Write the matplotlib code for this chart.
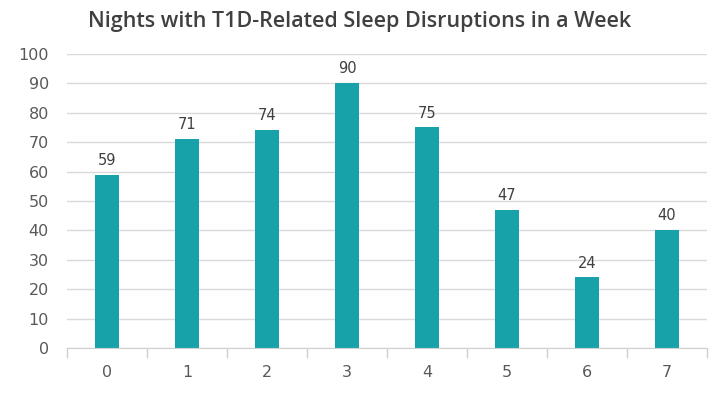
import matplotlib
matplotlib.use("Agg")
import matplotlib.pyplot as plt
import numpy as np

categories = ["0", "1", "2", "3", "4", "5", "6", "7"]
values = [59, 71, 74, 90, 75, 47, 24, 40]
yticks = [0, 10, 20, 30, 40, 50, 60, 70, 80, 90, 100]
title = "Nights with T1D-Related Sleep Disruptions in a Week"

plt.rcParams['font.family'] = ['DejaVu Sans']
fig = plt.figure(figsize=(7.18, 3.97), dpi=100)
ax = fig.add_axes([0.0933, 0.1234, 0.8914, 0.7406])

x = np.arange(len(categories))
bars = ax.bar(x, values, width=0.31, color="#17A2AA", zorder=3)
for xi, v in zip(x, values):
    ax.annotate(str(v), (xi, v), xytext=(0, 5), textcoords="offset points",
                ha="center", va="bottom", fontsize=10.5, color="#404040")

ax.set_xlim(-0.5, len(categories) - 0.5)
ax.set_ylim(0, 100)
ax.set_yticks(yticks)
ax.set_yticklabels([str(t) for t in yticks], fontsize=11.5, color="#595959")
ax.set_xticks(x)
ax.set_xticklabels(categories, fontsize=11.5, color="#595959")
ax.tick_params(axis='x', length=0, pad=12)
ax.tick_params(axis='y', length=0, pad=13)
ax.set_xticks(np.arange(-0.5, len(categories), 1.0), minor=True)
ax.tick_params(axis='x', which='minor', length=7, color="#D0D0D0", width=1)
ax.grid(axis='y', color="#D9D9D9", linewidth=1, zorder=0)
for s in ["top", "right", "left"]:
    ax.spines[s].set_visible(False)
ax.spines["bottom"].set_color("#D0D0D0")
ax.spines["bottom"].set_zorder(4)

fig.text(0.501, 1 - 27 / 397, title, ha="center", va="baseline", fontsize=15.5,
         fontweight="semibold", color="#404040", family="Open Sans")
fig.savefig("out.png", dpi=100)
